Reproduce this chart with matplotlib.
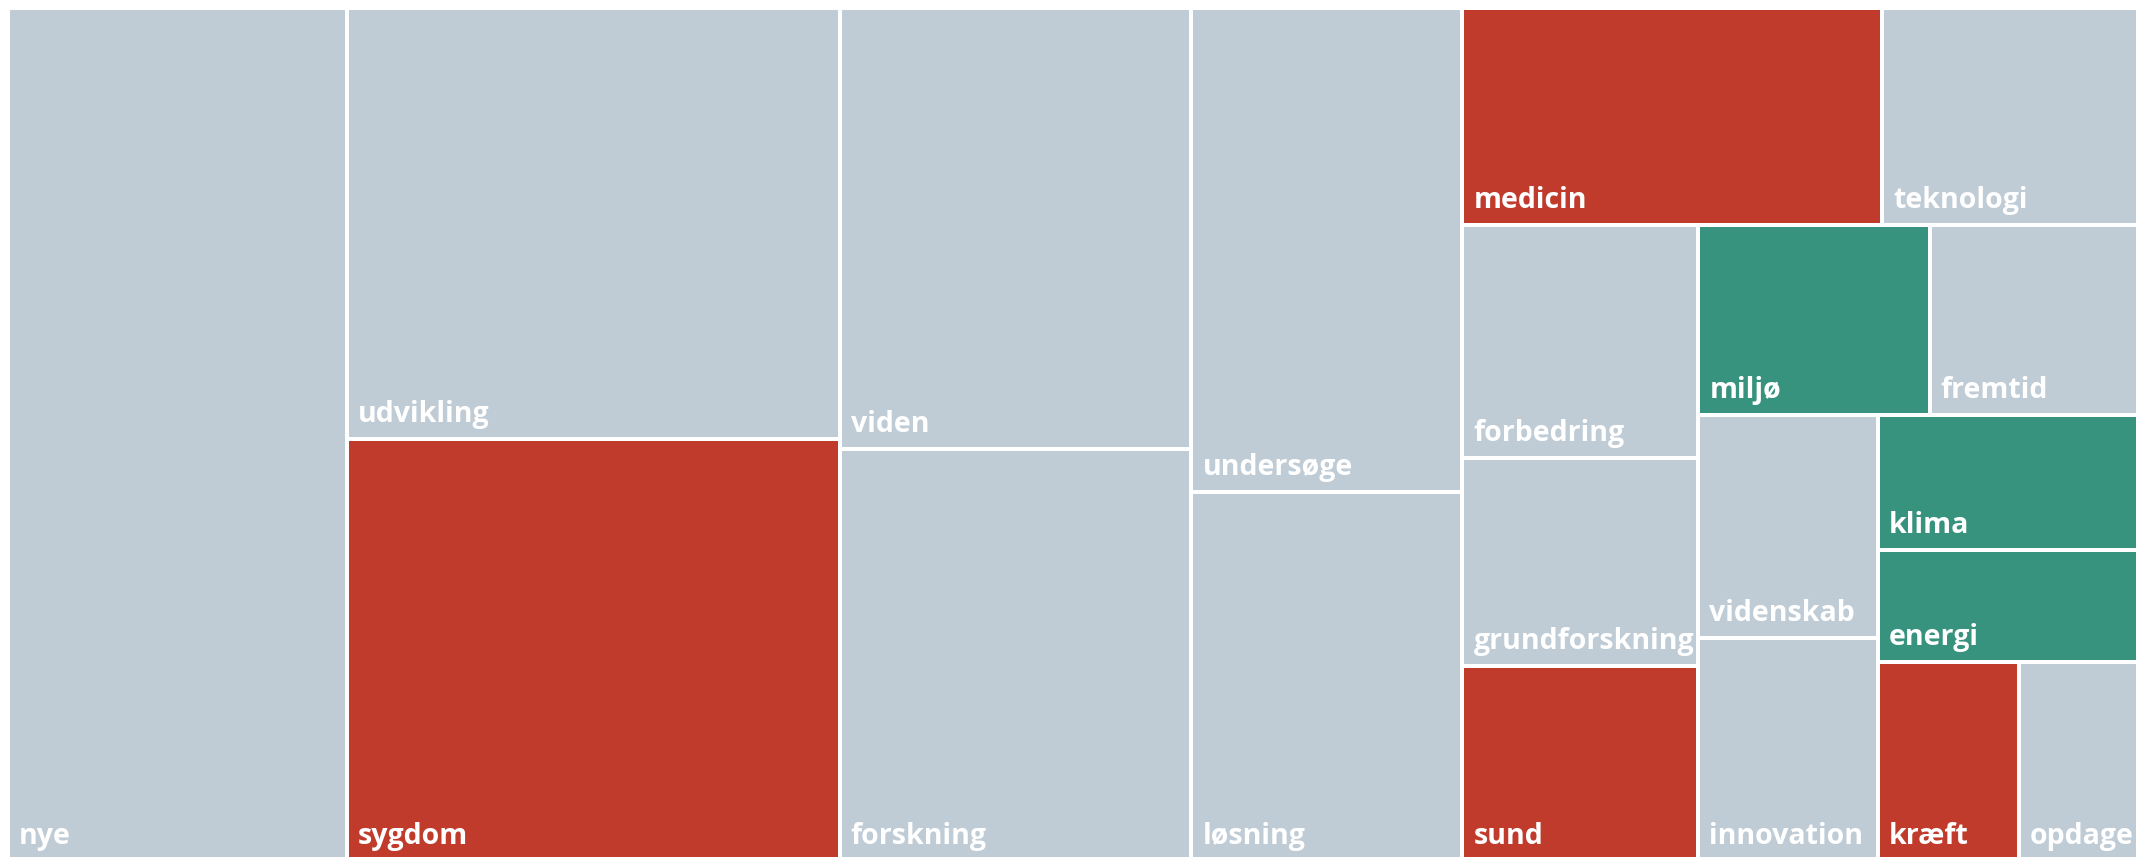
import matplotlib
matplotlib.use("Agg")
import matplotlib.pyplot as plt
from matplotlib.patches import Rectangle

# ---- data (word frequencies) ----
words = ["nye", "udvikling", "sygdom", "viden", "forskning", "undersøge", "løsning",
         "medicin", "teknologi", "forbedring", "grundforskning", "sund", "miljø",
         "fremtid", "videnskab", "innovation", "klima", "energi", "kræft", "opdage"]
counts = [289, 212, 208, 155, 145, 131, 100, 91, 57, 55, 49, 46, 44, 41, 40, 40,
          36, 30, 28, 25]
themes = ["other", "other", "health", "other", "other", "other", "other",
          "health", "other", "other", "other", "health", "climate",
          "other", "other", "other", "climate", "climate", "health", "other"]
theme_colors = {"other": "#BFCCD6", "health": "#C03B2B", "climate": "#37937E"}


def squarify(values, x0, y0, x1, y1, ratio):
    """Squarified treemap tiling (d3-hierarchy algorithm, configurable ratio)."""
    n = len(values)
    rects = [None] * n
    value = float(sum(values))
    i0 = i1 = 0
    while i0 < n:
        dx, dy = x1 - x0, y1 - y0
        sumv = values[i1]
        i1 += 1
        minv = maxv = sumv
        alpha = max(dy / dx, dx / dy) / (value * ratio)
        beta = sumv * sumv * alpha
        min_ratio = max(maxv / beta, beta / minv)
        while i1 < n:
            nv = values[i1]
            sumv += nv
            minv = min(minv, nv)
            maxv = max(maxv, nv)
            beta = sumv * sumv * alpha
            new_ratio = max(maxv / beta, beta / minv)
            if new_ratio > min_ratio:
                sumv -= nv
                break
            min_ratio = new_ratio
            i1 += 1
        if dx < dy:  # row along the top
            ny = y0 + dy * sumv / value if value else y1
            x = x0
            for k in range(i0, i1):
                w = (x1 - x0) * values[k] / sumv
                rects[k] = (x, y0, x + w, ny)
                x += w
            y0 = ny
        else:  # column on the left
            nx = x0 + dx * sumv / value if value else x1
            y = y0
            for k in range(i0, i1):
                h = (y1 - y0) * values[k] / sumv
                rects[k] = (x0, y, nx, y + h)
                y += h
            x0 = nx
        value -= sumv
        i0 = i1
    return rects


W, H = 2136, 857
fig = plt.figure(figsize=(W / 100, H / 100), dpi=100)
ax = fig.add_axes([0, 0, 1, 1])
ax.set_xlim(0, W)
ax.set_ylim(H, 0)
ax.axis("off")

tiles = squarify(counts, 8, 8, 2145, 861, ratio=0.78)
gap = 2
for word, theme, (a, b, c, d) in zip(words, themes, tiles):
    patch = Rectangle((a + gap, b + gap), (c - a) - 2 * gap, (d - b) - 2 * gap,
                      facecolor=theme_colors[theme], edgecolor="none")
    ax.add_patch(patch)
    t = ax.text(a + gap + 9, d - gap - 15, word, color="white",
                fontsize=20.5, fontweight="bold", family=["Open Sans", "DejaVu Sans"],
                ha="left", va="baseline")
    t.set_clip_path(patch)

fig.savefig("out.png", dpi=100, facecolor="white")
